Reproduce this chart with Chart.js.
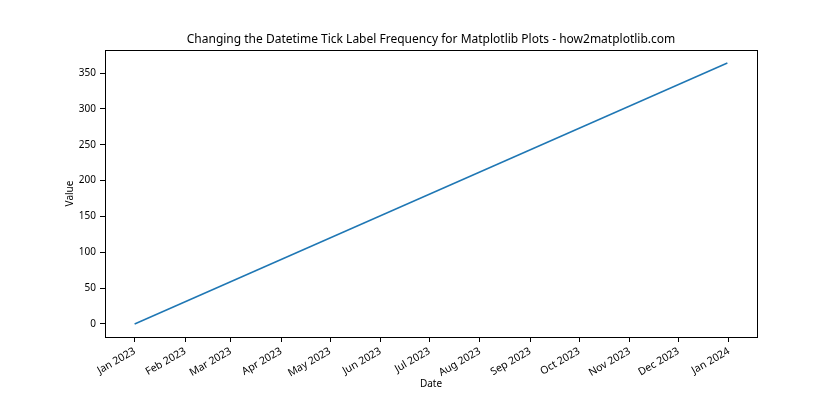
<!DOCTYPE html>
<html>
<head>
<meta charset="utf-8">
<script src="https://cdn.jsdelivr.net/npm/chart.js@4/dist/chart.umd.min.js"></script>
<style>
  body { margin: 0; background: #fff; }
  #wrap { width: 840px; height: 420px; }
</style>
</head>
<body>
<div id="wrap"><canvas id="myChart" width="840" height="420"></canvas></div>
<script>
// data: one value per day, straight line from 0 to 364
const pointDates = ['2023-01-01', '2023-12-31']
const pointValues = [0, 364]

// x ticks: first of every month
const tickDates = ['2023-01-01', '2023-02-01', '2023-03-01', '2023-04-01', '2023-05-01', '2023-06-01',
                   '2023-07-01', '2023-08-01', '2023-09-01', '2023-10-01', '2023-11-01', '2023-12-01', '2024-01-01']
const tickLabels = ['Jan 2023', 'Feb 2023', 'Mar 2023', 'Apr 2023', 'May 2023', 'Jun 2023',
                    'Jul 2023', 'Aug 2023', 'Sep 2023', 'Oct 2023', 'Nov 2023', 'Dec 2023', 'Jan 2024']
const yTicks = [0, 50, 100, 150, 200, 250, 300, 350]

const titleText = 'Changing the Datetime Tick Label Frequency for Matplotlib Plots - how2matplotlib.com'
const xTitle = 'Date'
const yTitle = 'Value'

// days since 2023-01-01, no date adapter available offline
function toDay(s) {
  const p = s.split('-')
  return (Date.UTC(+p[0], +p[1] - 1, +p[2]) - Date.UTC(2023, 0, 1)) / 86400000
}

const points = pointDates.map(function (d, i) { return { x: toDay(d), y: pointValues[i] } })
const xTickDays = tickDates.map(toDay)

const FONT = '"Noto Sans", "DejaVu Sans", sans-serif'

// frame + title + axis labels, matplotlib style
const decor = {
  id: 'decor',
  afterDraw(chart) {
    const ctx = chart.ctx
    const a = chart.chartArea
    ctx.save()
    ctx.strokeStyle = '#000'
    ctx.lineWidth = 1
    ctx.strokeRect(Math.round(a.left) + 0.5, Math.round(a.top) + 0.5,
                   Math.round(a.right - a.left), Math.round(a.bottom - a.top))
    ctx.fillStyle = '#000'
    ctx.textAlign = 'center'
    ctx.textBaseline = 'middle'
    const cx = (a.left + a.right) / 2
    ctx.font = '12px ' + FONT
    ctx.fillText(titleText, cx, 40)
    ctx.font = '10px ' + FONT
    ctx.fillText(xTitle, cx, 384)
    ctx.translate(70, (a.top + a.bottom) / 2)
    ctx.rotate(-Math.PI / 2)
    ctx.fillText(yTitle, 0, 0)
    ctx.restore()
  }
}

const ctx = document.getElementById('myChart').getContext('2d')
const myChart = new Chart(ctx, {
  type: 'line',
  data: {
    datasets: [{
      data: points,
      borderColor: '#1f77b4',
      borderWidth: 1.5,
      pointRadius: 0,
      fill: false,
      tension: 0
    }]
  },
  options: {
    responsive: false,
    animation: false,
    layout: { padding: { top: 50, right: 83, left: 0, bottom: 0 } },
    plugins: {
      legend: { display: false },
      title: { display: false },
      tooltip: { enabled: false }
    },
    scales: {
      x: {
        type: 'linear',
        min: -18.2,
        max: 382.2,
        afterBuildTicks(scale) { scale.ticks = xTickDays.map(function (v) { return { value: v } }) },
        afterFit(scale) { scale.height = 83 },
        grid: { drawOnChartArea: false, drawTicks: true, tickLength: 5, color: '#000' },
        border: { display: true, color: '#000' },
        ticks: {
          autoSkip: false,
          minRotation: 30,
          maxRotation: 30,
          padding: 3,
          color: '#000',
          font: { family: FONT, size: 10.5 },
          callback: function (value, index) { return tickLabels[index] }
        }
      },
      y: {
        min: -18.2,
        max: 382.2,
        afterBuildTicks(scale) { scale.ticks = yTicks.map(function (v) { return { value: v } }) },
        afterFit(scale) { scale.width = 105 },
        grid: { drawOnChartArea: false, drawTicks: true, tickLength: 5, color: '#000' },
        border: { display: true, color: '#000' },
        ticks: {
          padding: 4,
          color: '#000',
          font: { family: FONT, size: 10 }
        }
      }
    }
  },
  plugins: [decor]
})
</script>
</body>
</html>
